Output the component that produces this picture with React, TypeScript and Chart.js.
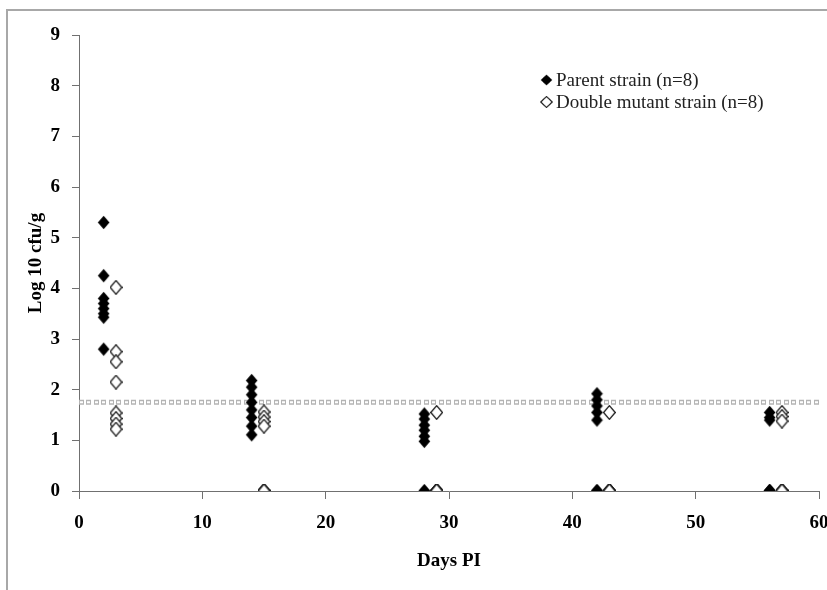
import React, { useEffect, useRef } from "react";
import { Chart, registerables } from "chart.js";

Chart.register(...registerables);

// ---- Data ----
const parentDays = [2, 14, 28, 42, 56];
const mutantDays = [3, 15, 29, 43, 57];

const parentDay2 = [5.3, 4.25, 3.8, 3.7, 3.6, 3.5, 3.43, 2.8];
const parentDay14 = [2.18, 2.05, 1.9, 1.75, 1.6, 1.45, 1.28, 1.11];
const parentDay28 = [1.52, 1.42, 1.3, 1.2, 1.08, 0.98, 0, 0];
const parentDay42 = [1.92, 1.8, 1.68, 1.55, 1.4, 0, 0, 0];
const parentDay56 = [1.55, 1.45, 1.4, 0, 0, 0, 0, 0];

const mutantDay3 = [4.02, 2.75, 2.55, 2.15, 1.54, 1.43, 1.32, 1.22];
const mutantDay15 = [1.56, 1.46, 1.37, 1.28, 0, 0, 0, 0];
const mutantDay29 = [1.55, 0, 0, 0, 0, 0, 0, 0];
const mutantDay43 = [1.55, 0, 0, 0, 0, 0, 0, 0];
const mutantDay57 = [1.55, 1.47, 1.38, 0, 0, 0, 0, 0];

const parentValues = [parentDay2, parentDay14, parentDay28, parentDay42, parentDay56];
const mutantValues = [mutantDay3, mutantDay15, mutantDay29, mutantDay43, mutantDay57];

const detectionLimit = 1.75;
const xRange = [0, 60];
const yRange = [0, 9];
const xTickStep = 10;
const yTickStep = 1;

const legendLabels = ["Parent strain (n=8)", "Double mutant strain (n=8)"];
const xTitle = "Days PI";
const yTitle = "Log 10 cfu/g";

const SERIF = '"Liberation Serif", "Times New Roman", Times, serif';

function toPoints(days: number[], values: number[][]) {
  const pts: { x: number; y: number }[] = [];
  days.forEach((d, i) => values[i].forEach((v) => pts.push({ x: d, y: v })));
  return pts;
}

function makeDiamond(filled: boolean): HTMLCanvasElement {
  const c = document.createElement("canvas");
  const w = 13;
  const h = 15;
  c.width = w;
  c.height = h;
  const g = c.getContext("2d")!;
  g.beginPath();
  g.moveTo(w / 2, 0.7);
  g.lineTo(w - 0.7, h / 2);
  g.lineTo(w / 2, h - 0.7);
  g.lineTo(0.7, h / 2);
  g.closePath();
  if (filled) {
    g.fillStyle = "#000";
    g.fill();
  } else {
    g.fillStyle = "#fff";
    g.fill();
    g.strokeStyle = "#1a1a1a";
    g.lineWidth = 1.3;
    g.stroke();
  }
  return c;
}

export default function App() {
  const canvasRef = useRef<HTMLCanvasElement | null>(null);

  useEffect(() => {
    if (!canvasRef.current) return;
    const filledDiamond = makeDiamond(true);
    const hollowDiamond = makeDiamond(false);
    const legendImgs = [filledDiamond, hollowDiamond];

    const legendPlugin = {
      id: "customLegend",
      afterDraw(chart: any) {
        const ctx = chart.ctx as CanvasRenderingContext2D;
        ctx.save();
        ctx.font = `19px ${SERIF}`;
        ctx.fillStyle = "#222";
        ctx.textBaseline = "middle";
        ctx.textAlign = "left";
        legendLabels.forEach((label, i) => {
          const y = 80 + i * 22;
          ctx.drawImage(legendImgs[i], 540, y - 6, 13, 12);
          ctx.fillText(label, 556, y + 1);
        });
        ctx.restore();
      },
    };

    const chart = new Chart(canvasRef.current, {
      type: "scatter",
      data: {
        datasets: [
          {
            label: legendLabels[1],
            data: toPoints(mutantDays, mutantValues),
            pointStyle: hollowDiamond as any,
            pointRadius: 7,
            order: 0,
          },
          {
            label: legendLabels[0],
            data: toPoints(parentDays, parentValues),
            pointStyle: filledDiamond as any,
            pointRadius: 7,
            order: 1,
          },
          {
            type: "line",
            label: "limit-inner",
            data: [
              { x: xRange[0], y: detectionLimit },
              { x: xRange[1], y: detectionLimit },
            ],
            borderColor: "#ffffff",
            borderWidth: 2,
            borderDash: [3, 4, 3, 5],
            borderDashOffset: -1,
            pointRadius: 0,
            order: 2,
          } as any,
          {
            type: "line",
            label: "limit",
            data: [
              { x: xRange[0], y: detectionLimit },
              { x: xRange[1], y: detectionLimit },
            ],
            borderColor: "#b4b4b4",
            borderWidth: 5,
            borderDash: [5, 2, 5, 3],
            pointRadius: 0,
            order: 3,
          } as any,
        ],
      },
      options: {
        animation: false,
        responsive: false,
        devicePixelRatio: 1,
        layout: { padding: { top: 35, right: 4, left: 0, bottom: 0 } },
        plugins: {
          legend: { display: false },
          tooltip: { enabled: false },
        },
        scales: {
          x: {
            type: "linear",
            min: xRange[0],
            max: xRange[1],
            ticks: {
              stepSize: xTickStep,
              color: "#000",
              padding: 13,
              font: { family: SERIF, size: 19, weight: "bold" },
            },
            grid: {
              display: true,
              drawOnChartArea: false,
              drawTicks: true,
              tickLength: 8,
              color: "#707070",
            },
            border: { display: true, color: "#707070", width: 1 },
            title: {
              display: true,
              text: xTitle,
              color: "#000",
              font: { family: SERIF, size: 19, weight: "bold" },
              padding: { top: 0, bottom: 18 },
            },
            afterFit: (scale: any) => {
              scale.height = 99;
              scale.paddingLeft = 0;
              scale.paddingRight = 0;
            },
          },
          y: {
            type: "linear",
            min: yRange[0],
            max: yRange[1],
            ticks: {
              stepSize: yTickStep,
              color: "#000",
              padding: 12,
              font: { family: SERIF, size: 19, weight: "bold" },
            },
            grid: {
              display: true,
              drawOnChartArea: false,
              drawTicks: true,
              tickLength: 7,
              color: "#707070",
            },
            border: { display: true, color: "#707070", width: 1 },
            title: {
              display: true,
              text: yTitle,
              color: "#000",
              font: { family: SERIF, size: 19, weight: "bold" },
              padding: { top: 25, bottom: 0 },
            },
            afterFit: (scale: any) => {
              scale.width = 79;
            },
          },
        },
      },
      plugins: [legendPlugin],
    });

    return () => chart.destroy();
  }, []);

  return (
    <div
      style={{
        position: "absolute",
        left: 0,
        top: 0,
        width: 827,
        height: 590,
        overflow: "hidden",
        background: "#fff",
      }}
    >
      <div
        style={{
          position: "absolute",
          left: 6,
          top: 9,
          width: 900,
          height: 700,
          borderLeft: "2px solid #a8a8a8",
          borderTop: "2px solid #a8a8a8",
        }}
      />
      <canvas
        ref={canvasRef}
        width={827}
        height={590}
        style={{ position: "absolute", left: 0, top: 0, width: 827, height: 590 }}
      />
    </div>
  );
}
